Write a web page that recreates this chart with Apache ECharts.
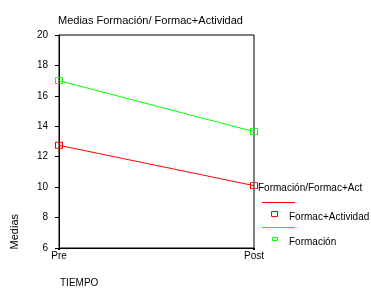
<!DOCTYPE html>
<html><head><meta charset="utf-8">
<script src="https://cdn.jsdelivr.net/npm/echarts@6/dist/echarts.min.js"></script>
<style>html,body{margin:0;padding:0;background:#fff}#c{width:371px;height:293px}</style>
</head><body><div id="c"></div>
<script>
var categories = ['Pre', 'Post'];
var formacActividad = [12.75, 10.1];
var formacion = [17.0, 13.65];
var yTicks = [6, 8, 10, 12, 14, 16, 18, 20];
var titleText = 'Medias Formación/ Formac+Actividad';
var legendTitle = 'Formación/Formac+Act';
var seriesNames = ['Formac+Actividad', 'Formación'];

var FONT = 'Liberation Sans, Arial, sans-serif';
var chart = echarts.init(document.getElementById('c'));
function ser(name, data, col) {
  return {
    name: name, type: 'line', data: data,
    symbol: 'rect', symbolSize: [7, 6],
    lineStyle: { color: col, width: 1 },
    itemStyle: { color: 'rgba(0,0,0,0)', borderColor: col, borderWidth: 1 },
    animation: false
  };
}
chart.setOption({
  animation: false,
  title: { text: titleText, left: 53, top: 10,
    textStyle: { fontFamily: FONT, fontSize: 11, fontWeight: 'normal', color: '#000' } },
  grid: { left: 59, right: 117, top: 35, bottom: 45, show: true, borderColor: '#000', borderWidth: 1, backgroundColor: 'transparent' },
  xAxis: { type: 'category', data: categories, boundaryGap: false,
    axisLine: { lineStyle: { color: '#000', width: 1 } },
    axisTick: { show: true, length: 2, alignWithLabel: true, lineStyle: { color: '#000', width: 2 } },
    axisLabel: { color: '#000', fontFamily: FONT, fontSize: 10, margin: 3 },
    splitLine: { show: false } },
  yAxis: { type: 'value', min: yTicks[0], max: yTicks[yTicks.length - 1], interval: 2,
    axisLine: { show: true, lineStyle: { color: '#000', width: 1 } },
    axisTick: { show: true, length: 4, lineStyle: { color: '#000', width: 1 } },
    axisLabel: { color: '#000', fontFamily: FONT, fontSize: 10, margin: 11 },
    splitLine: { show: false } },
  series: [ser(seriesNames[0], formacActividad, '#ff0000'), ser(seriesNames[1], formacion, '#00ff00')],
  graphic: [
    { type: 'text', left: 9, top: 214, rotation: Math.PI / 2, style: { text: 'Medias', font: '11px ' + FONT, fill: '#000' } },
    { type: 'text', x: 60, y: 278, style: { text: 'TIEMPO', font: '10px ' + FONT, fill: '#000' } },
    { type: 'text', x: 258, y: 183, style: { text: legendTitle, font: '10px ' + FONT, fill: '#000' } },
    { type: 'line', shape: { x1: 262, y1: 202.5, x2: 295, y2: 202.5 }, style: { stroke: '#ff0000', lineWidth: 1 } },
    { type: 'rect', shape: { x: 271.5, y: 211.5, width: 6, height: 5 }, style: { fill: 'none', stroke: '#ff0000', lineWidth: 1 } },
    { type: 'text', x: 289, y: 212, style: { text: seriesNames[0], font: '10px ' + FONT, fill: '#000' } },
    { type: 'line', shape: { x1: 262, y1: 227.5, x2: 295, y2: 227.5 }, style: { stroke: '#00ff00', lineWidth: 1 } },
    { type: 'rect', shape: { x: 272.5, y: 237.5, width: 5, height: 3 }, style: { fill: 'none', stroke: '#00ff00', lineWidth: 1 } },
    { type: 'text', x: 289, y: 237, style: { text: seriesNames[1], font: '10px ' + FONT, fill: '#000' } }
  ]
});
</script></body></html>
